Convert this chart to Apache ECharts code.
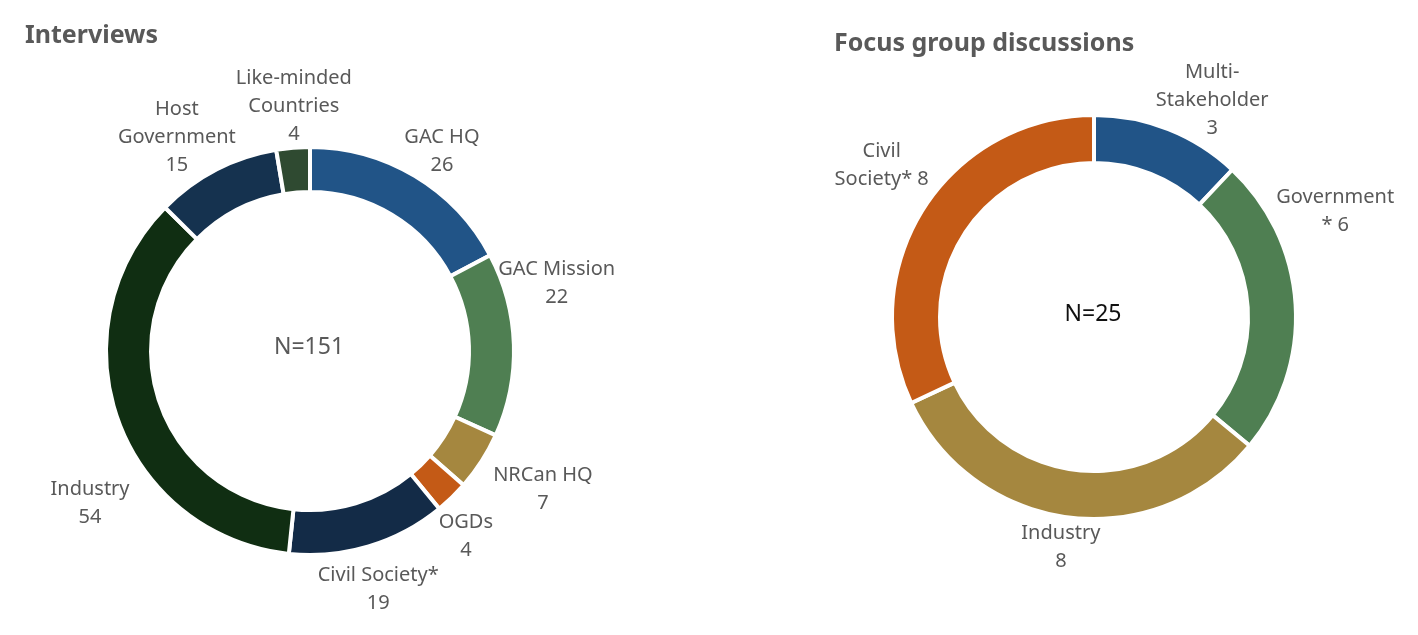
<!DOCTYPE html>
<html>
<head>
<meta charset="utf-8">
<script src="https://cdn.jsdelivr.net/npm/echarts@6/dist/echarts.min.js"></script>
<style>
html,body{margin:0;padding:0;background:#fff;}
#main{width:1418px;height:635px;}
</style>
</head>
<body>
<div id="main"></div>
<script>
// ---- Data ----
const interviewCategories = ["GAC HQ", "GAC Mission", "NRCan HQ", "OGDs", "Civil Society*", "Industry", "Host\nGovernment", "Like-minded\nCountries"];
const interviewValues = [26, 22, 7, 4, 19, 54, 15, 4];
const interviewTotalLabel = "N=151";

const focusCategories = ["Multi-\nStakeholder", "Government\n*", "Industry", "Civil\nSociety*"];
const focusSeparators = ["\n", " ", "\n", " "];
const focusValues = [3, 6, 8, 8];
const focusTotalLabel = "N=25";

// ---- Styles / layout ----
const interviewColors = ["#215487", "#4F7F52", "#A5873F", "#C45A16", "#132B47", "#102E12", "#15324F", "#2F4A31"];
const focusColors = ["#215487", "#4F7F52", "#A5873F", "#C45A16"];

const FONT = "'Noto Sans', sans-serif";
const pies = [
  { center: [310, 351], radius: [159, 204] },
  { center: [1094, 317], radius: [154, 202] }
];
// best-fit style label placement tweaks (degrees rotation, radial gap px)
const labelPlacement = [
  { shift: [2.5, -13.5, -2, 4, 0.7, -15, -4.5, 1], gap: [-9, -12, 10, -1, 0, 15, -19, -4] },
  { shift: [7, -20, 1, 3.2], gap: [-19, -4, -3, 4.5] }
];

function labelLayoutFor(si) {
  return function (params) {
    const pts = params.labelLinePoints;
    if (!pts || pts.length < 2) return {};
    const p0 = pts[0], p1 = pts[1];
    const theta = Math.atan2(p1[0] - p0[0], -(p1[1] - p0[1]));
    const cfg = labelPlacement[si];
    const i = params.dataIndex;
    const t2 = theta + cfg.shift[i] * Math.PI / 180;
    const dx = Math.sin(t2), dy = -Math.cos(t2);
    const w = params.labelRect.width, h = params.labelRect.height;
    const s = Math.abs(dx) * w / 2 + Math.abs(dy) * h / 2;
    const c = pies[si].center, R = pies[si].radius[1] + cfg.gap[i];
    return { x: c[0] + dx * (R + s), y: c[1] + dy * (R + s), align: 'center', verticalAlign: 'middle' };
  };
}

const labelStyle = {
  show: true,
  position: 'outside',
  color: '#595959',
  fontFamily: FONT,
  fontSize: 20,
  lineHeight: 28,
  align: 'center'
};

const chart = echarts.init(document.getElementById('main'), null, { renderer: 'canvas' });
chart.setOption({
  backgroundColor: '#ffffff',
  animation: false,
  title: [
    { text: 'Interviews', left: 20, top: 18, textStyle: { fontFamily: FONT, fontWeight: 'bold', fontSize: 25, color: '#595959' } },
    { text: 'Focus group discussions', left: 829, top: 26, textStyle: { fontFamily: FONT, fontWeight: 'bold', fontSize: 25, color: '#595959' } }
  ],
  graphic: [
    { type: 'text', style: { text: interviewTotalLabel, fontFamily: FONT, fontSize: 23, fill: '#595959', align: 'center', verticalAlign: 'middle', x: 309, y: 347 } },
    { type: 'text', style: { text: focusTotalLabel, fontFamily: FONT, fontSize: 23, fill: '#111111', align: 'center', verticalAlign: 'middle', x: 1093, y: 314 } }
  ],
  series: [
    {
      type: 'pie',
      center: pies[0].center,
      radius: pies[0].radius,
      startAngle: 90,
      clockwise: true,
      avoidLabelOverlap: false,
      itemStyle: { borderColor: '#ffffff', borderWidth: 4 },
      label: Object.assign({}, labelStyle, { formatter: p => p.name + '\n' + p.value }),
      labelLine: { show: true, length: 10, length2: 0, lineStyle: { opacity: 0, width: 0 } },
      labelLayout: labelLayoutFor(0),
      emphasis: { disabled: true },
      data: interviewCategories.map((c, i) => ({ name: c, value: interviewValues[i], itemStyle: { color: interviewColors[i] } }))
    },
    {
      type: 'pie',
      center: pies[1].center,
      radius: pies[1].radius,
      startAngle: 90,
      clockwise: true,
      avoidLabelOverlap: false,
      itemStyle: { borderColor: '#ffffff', borderWidth: 4 },
      label: Object.assign({}, labelStyle, { formatter: p => p.name + focusSeparators[p.dataIndex] + p.value }),
      labelLine: { show: true, length: 10, length2: 0, lineStyle: { opacity: 0, width: 0 } },
      labelLayout: labelLayoutFor(1),
      emphasis: { disabled: true },
      data: focusCategories.map((c, i) => ({ name: c, value: focusValues[i], itemStyle: { color: focusColors[i] } }))
    }
  ]
});
</script>
</body>
</html>
